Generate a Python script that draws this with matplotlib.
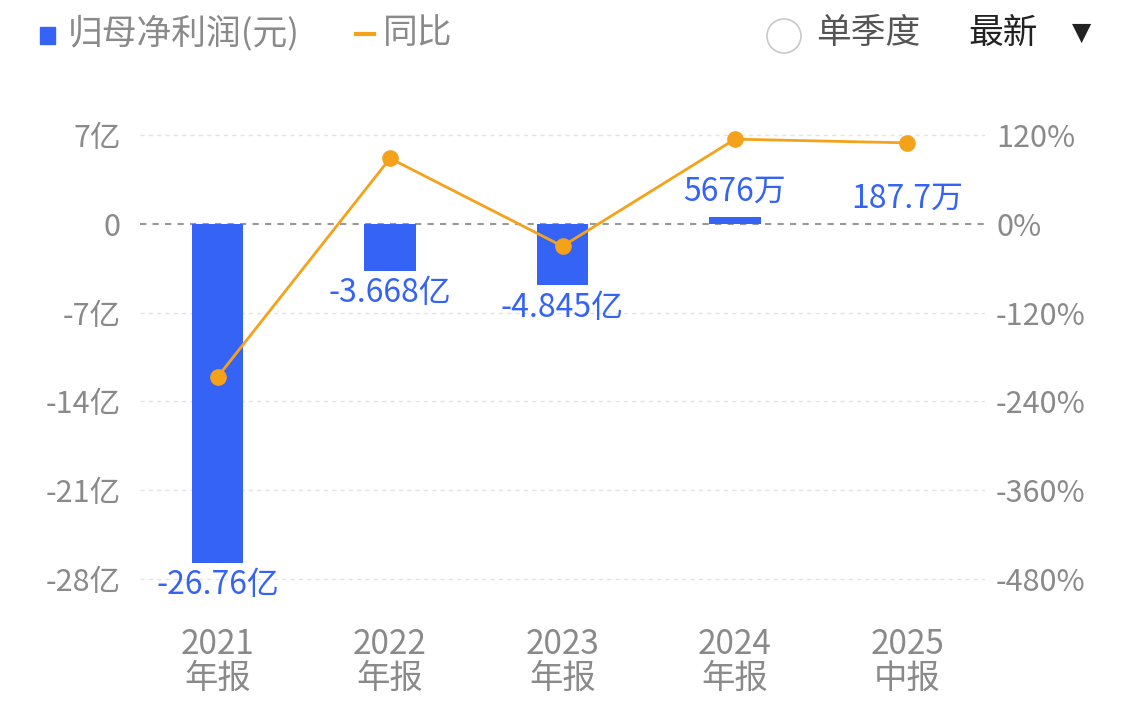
import matplotlib
matplotlib.use("Agg")
import matplotlib.pyplot as plt
from matplotlib.patches import Ellipse

plt.rcParams['font.family'] = ['Noto Sans CJK SC', 'DejaVu Sans']

categories = ["2021\n年报", "2022\n年报", "2023\n年报", "2024\n年报", "2025\n中报"]
profit = [-26.76, -3.668, -4.845, 0.5676, 0.01877]  # 亿
profit_labels = ["-26.76亿", "-3.668亿", "-4.845亿", "5676万", "187.7万"]
yoy = [-207, 89, -30, 115, 110]  # %
left_ticks = [7, 0, -7, -14, -21, -28]
left_labels = ["7亿", "0", "-7亿", "-14亿", "-21亿", "-28亿"]
right_ticks = [120, 0, -120, -240, -360, -480]
right_labels = ["120%", "0%", "-120%", "-240%", "-360%", "-480%"]

blue = "#3563f6"
orange = "#f5a21b"
grey = "#8a8a8a"

fig = plt.figure(figsize=(11.44, 7.14), dpi=100)
ax = fig.add_axes([140/1144, 0.172, 845/1144, 0.656])
x = list(range(len(categories)))
colors = [blue, blue, blue, blue, "#dce6ff"]
ax.bar(x, profit, width=0.3, color=colors, zorder=2)
ax.set_ylim(-29, 8)
ax.set_xlim(-0.45, 4.45)
ax.set_yticks(left_ticks)
ax.set_yticklabels(left_labels)
for t in left_ticks:
    if t == 0:
        ax.axhline(0, color="#999999", ls=(0, (3, 3)), lw=1.5, zorder=1)
    else:
        ax.axhline(t, color="#e3e3e3", ls=(0, (3, 3)), lw=1, zorder=1)
for s in ax.spines.values():
    s.set_visible(False)
ax.tick_params(length=0, labelsize=22, colors=grey, pad=14)
ax.set_xticks(x)
ax.set_xticklabels(categories, fontsize=24, linespacing=0.95)
ax.tick_params(axis='x', pad=26)

for i, (v, lab) in enumerate(zip(profit, profit_labels)):
    if v < 0:
        ax.text(i, v - 0.5, lab, ha="center", va="top", color=blue, fontsize=23)
    else:
        ax.text(i, v + 0.7, lab, ha="center", va="bottom", color=blue, fontsize=23)

ax2 = ax.twinx()
ax2.set_ylim(-29 * 120 / 7, 8 * 120 / 7)
ax2.plot(x, yoy, color=orange, lw=2, marker="o", ms=11, zorder=3)
ax2.set_yticks(right_ticks)
ax2.set_yticklabels(right_labels)
for s in ax2.spines.values():
    s.set_visible(False)
ax2.tick_params(length=0, labelsize=22, colors=grey, pad=8)

# header legend
fig.patches.append(plt.Rectangle((40/1144, 1-44/714), 15/1144, 17/714, color=blue, transform=fig.transFigure, figure=fig))
fig.text(68/1144, 1-33/714, "归母净利润(元)", fontsize=25, color=grey, va="center")
fig.lines.append(plt.Line2D([356/1144, 374/1144], [1-34/714]*2, color=orange, lw=3, transform=fig.transFigure, figure=fig))
fig.text(383/1144, 1-33/714, "同比", fontsize=25, color=grey, va="center")
fig.patches.append(Ellipse((784/1144, 1-36/714), 34/1144, 34/714, transform=fig.transFigure, fill=False, ec="#c8c8c8", lw=1.2, figure=fig))
fig.text(816/1144, 1-33/714, "单季度", fontsize=25, color="#555555", va="center")
fig.text(968/1144, 1-33/714, "最新", fontsize=25, color="#222222", va="center")
fig.text(1072/1144, 1-33/714, "▼", fontsize=18, color="#222222", va="center", family=['DejaVu Sans'])

fig.savefig("out.png", dpi=100)
